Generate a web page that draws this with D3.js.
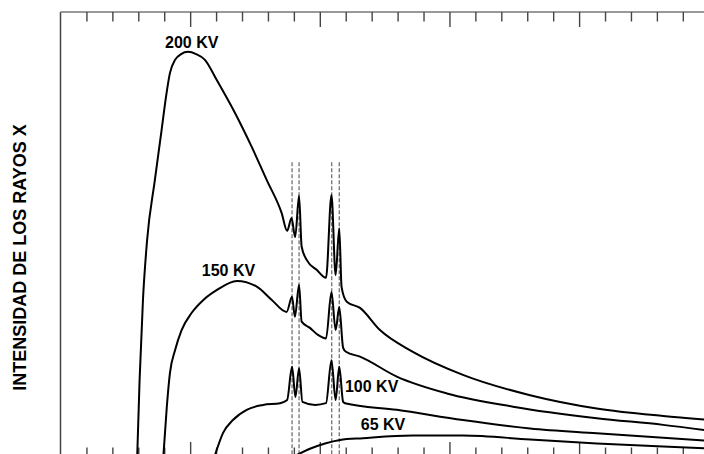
<!DOCTYPE html>
<html><head><meta charset="utf-8">
<script src="https://cdn.jsdelivr.net/npm/d3@7"></script>
<style>body{margin:0;background:#fff}svg{display:block}</style></head>
<body><svg id="c" width="704" height="454"></svg>
<script>
// ---- data (x: arbitrary wavelength units, y: relative intensity) ----
const kv200 = [[29.6,0],[30.5,16.9],[31.8,35.0],[33.4,48.5],[36.4,62.1],[39.0,73.4],[40.7,80.9],[42.2,86.2],[44.2,89.2],[46.5,90.5],[49.2,91.0],[52.3,90.5],[55.7,89.2],[60.2,84.7],[67.3,77.2],[73.7,69.6],[79.5,62.1],[85.3,54.6],[87.4,50.6],[89.1,53.5],[90.5,49.2],[92.0,58.5],[93.0,47.0],[95.0,44.0],[98.8,41.8],[102.4,40.0],[104.5,58.7],[106.1,40.6],[107.5,51.2],[108.4,37.9],[110.4,34.6],[115.5,33.2],[123.2,28.2],[135.9,23.3],[155.2,18.1],[181.1,13.5],[206.8,10.5],[232.4,8.8],[250.1,7.9]];
const kv150 = [[39.7,0],[41.0,10.9],[42.2,18.5],[44.2,23.7],[46.7,28.2],[50.6,32.1],[55.1,35.0],[60.2,37.2],[68.0,39.3],[75.7,38.0],[81.5,35.0],[87.2,32.3],[89.3,35.7],[90.4,31.2],[92.0,38.4],[93.0,30.1],[96.2,28.7],[99.3,27.1],[102.4,26.3],[104.5,36.8],[106.1,28.2],[107.5,33.4],[109.0,24.2],[110.1,23.3],[115.5,22.2],[129.7,17.7],[149.0,13.9],[174.5,10.9],[206.8,8.3],[232.4,6.8],[250.1,5.5]];
const kv100 = [[59.6,0],[62.7,5.0],[66.5,7.9],[71.8,10.2],[78.1,11.3],[84.7,11.7],[87.4,12.4],[89.3,19.9],[90.6,13.1],[92.0,19.6],[93.3,12.0],[98.2,11.3],[102.4,11.7],[104.5,21.4],[106.1,12.4],[107.5,19.9],[109.0,12.0],[109.7,11.7],[129.7,10.2],[155.2,7.9],[181.1,6.0],[206.8,4.9],[250.1,3.2]];
const kv65 = [[91.1,0],[96.2,1.4],[102.0,2.6],[107.8,3.4],[116.7,3.8],[135.9,4.4],[155.2,4.4],[181.1,3.5],[206.8,2.6],[232.4,1.9],[250.1,1.5]];
const seriesNames = ["200 KV","150 KV","100 KV","65 KV"];
const labelAnchors = [[40.3,91.9],[54.5,40.4],[109.7,14.2],[115.8,5.6]];
const charLines = [89.3, 92.0, 104.6, 107.5];
const charLineTop = 66.1;
const xTicks = d3.range(0, 251, 10);
const yTitle = "INTENSIDAD DE LOS RAYOS X";

// ---- layout ----
const svg = d3.select("#c");
const leftX = 60.5, topY = 12, bottomY = 457;
const x = d3.scaleLinear().domain([0, 250]).range([leftX, leftX + 648.25]);
const y = d3.scaleLinear().domain([0, 100]).range([455, topY]);

// frame
svg.append("line").attr("x1", x(0)).attr("x2", x(0)).attr("y1", topY).attr("y2", bottomY)
  .attr("stroke", "#444").attr("stroke-width", 1.5);
svg.append("line").attr("x1", x(0)).attr("x2", 720).attr("y1", topY).attr("y2", topY)
  .attr("stroke", "#777").attr("stroke-width", 1.5);
svg.append("line").attr("x1", x(0)).attr("x2", 720).attr("y1", bottomY).attr("y2", bottomY)
  .attr("stroke", "#777").attr("stroke-width", 1.5);

const minor = xTicks.filter(d => d % 50 !== 0);
const major = xTicks.filter(d => d % 50 === 0 && d > 0);
function styleAxis(g){ g.select(".domain").remove(); g.selectAll(".tick line").attr("stroke","#444").attr("stroke-width",1.4); }
svg.append("g").attr("transform", `translate(0,${topY})`)
  .call(d3.axisBottom(x).tickValues(minor).tickSize(9.5).tickFormat("")).call(styleAxis);
svg.append("g").attr("transform", `translate(0,${topY})`)
  .call(d3.axisBottom(x).tickValues(major).tickSize(15).tickFormat("")).call(styleAxis);
svg.append("g").attr("transform", `translate(0,${bottomY})`)
  .call(d3.axisTop(x).tickValues(minor).tickSize(9.5).tickFormat("")).call(styleAxis);
svg.append("g").attr("transform", `translate(0,${bottomY})`)
  .call(d3.axisTop(x).tickValues(major).tickSize(15).tickFormat("")).call(styleAxis);

// characteristic dashed lines
svg.append("g").selectAll("line").data(charLines).join("line")
  .attr("x1", d => x(d)).attr("x2", d => x(d))
  .attr("y1", y(charLineTop)).attr("y2", bottomY)
  .attr("stroke", "#666").attr("stroke-width", 1.2).attr("stroke-dasharray", "4,2");

// curves
const line = d3.line().x(d => x(d[0])).y(d => y(d[1])).curve(d3.curveMonotoneX);
svg.append("g").selectAll("path").data([kv200, kv150, kv100, kv65]).join("path")
  .attr("d", line).attr("fill", "none").attr("stroke", "#000")
  .attr("stroke-width", 2).attr("stroke-linejoin", "round");

// curve labels
svg.append("g").selectAll("text").data(seriesNames).join("text")
  .attr("x", (d, i) => x(labelAnchors[i][0])).attr("y", (d, i) => y(labelAnchors[i][1]))
  .attr("font-family", "'Liberation Sans', Arial, sans-serif").attr("font-weight", "bold")
  .attr("font-size", 16).attr("fill", "#000").text(d => d);

// y title
svg.append("text").attr("transform", "translate(26,257.5) rotate(-90)")
  .attr("text-anchor", "middle")
  .attr("font-family", "'Liberation Sans', Arial, sans-serif").attr("font-weight", "bold")
  .attr("font-size", 18).attr("fill", "#000").text(yTitle);
</script>
</body></html>
